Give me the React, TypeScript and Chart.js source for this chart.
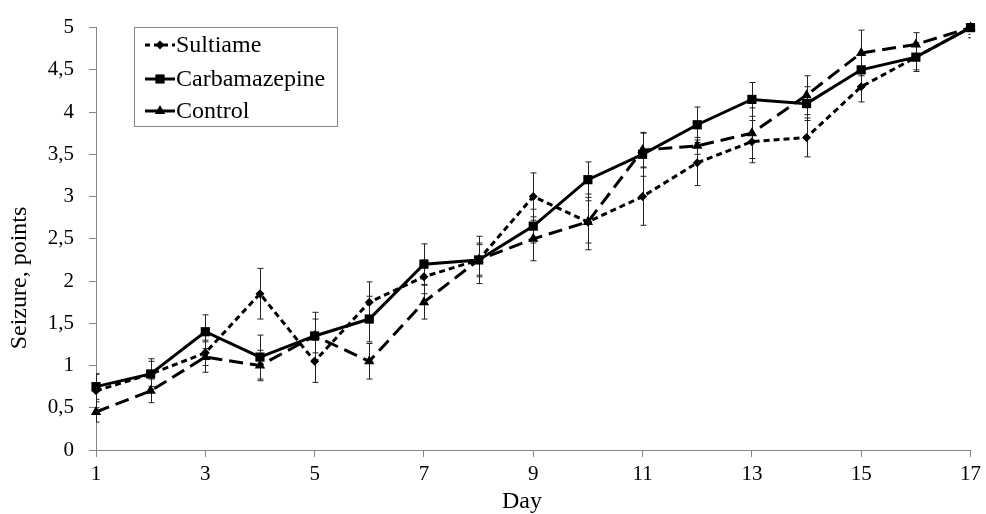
import React, { useEffect, useRef } from "react";
import { Chart, registerables } from "chart.js";

Chart.register(...registerables);

// ---- data ----
const days = [1, 2, 3, 4, 5, 6, 7, 8, 9, 10, 11, 12, 13, 14, 15, 16, 17];
const xTickValues = [1, 3, 5, 7, 9, 11, 13, 15, 17];
const yTickValues = [0, 0.5, 1, 1.5, 2, 2.5, 3, 3.5, 4, 4.5, 5];
const yTickLabels = ["0", "0,5", "1", "1,5", "2", "2,5", "3", "3,5", "4", "4,5", "5"];
const seriesNames = ["Sultiame", "Carbamazepine", "Control"];

const sultiame = [0.7, 0.9, 1.15, 1.85, 1.05, 1.75, 2.05, 2.25, 3.0, 2.7, 3.0, 3.4, 3.65, 3.7, 4.3, 4.65, 5.0];
const sultiameErr = [0.2, 0.15, 0.15, 0.3, 0.25, 0.24, 0.2, 0.28, 0.28, 0.25, 0.34, 0.27, 0.25, 0.23, 0.18, 0.15, 0.12];
const carbamazepine = [0.75, 0.9, 1.4, 1.1, 1.35, 1.55, 2.2, 2.25, 2.65, 3.2, 3.5, 3.85, 4.15, 4.1, 4.5, 4.65, 5.0];
const carbamazepineErr = [0.15, 0.18, 0.2, 0.26, 0.28, 0.27, 0.24, 0.2, 0.2, 0.21, 0.26, 0.21, 0.2, 0.2, 0.2, 0.17, 0.08];
const control = [0.45, 0.7, 1.1, 1.0, 1.35, 1.05, 1.75, 2.25, 2.5, 2.7, 3.55, 3.6, 3.75, 4.2, 4.7, 4.8, 5.0];
const controlErr = [0.12, 0.14, 0.18, 0.18, 0.2, 0.21, 0.2, 0.18, 0.26, 0.33, 0.2, 0.1, 0.3, 0.23, 0.27, 0.14, 0.12];

const xTitle = "Day";
const yTitle = "Seizure, points";

// ---- styling ----
const FONT = "'Liberation Serif', 'Times New Roman', serif";
const AXIS = "#868686";

function drawMarker(ctx: CanvasRenderingContext2D, style: string, x: number, y: number, r: number) {
  ctx.beginPath();
  if (style === "rect") {
    const s = r * Math.SQRT1_2;
    ctx.rect(x - s, y - s, 2 * s, 2 * s);
  } else if (style === "rectRot") {
    ctx.moveTo(x, y - r);
    ctx.lineTo(x + r, y);
    ctx.lineTo(x, y + r);
    ctx.lineTo(x - r, y);
    ctx.closePath();
  } else {
    for (let k = 0; k < 3; k++) {
      const a = -Math.PI / 2 + (k * 2 * Math.PI) / 3;
      const px = x + Math.cos(a) * r;
      const py = y + Math.sin(a) * r;
      if (k === 0) ctx.moveTo(px, py);
      else ctx.lineTo(px, py);
    }
    ctx.closePath();
  }
  ctx.fill();
}

const errorBarsPlugin = {
  id: "errorBars",
  beforeDatasetsDraw(chart: any) {
    const { ctx, chartArea: a } = chart;
    const ys = chart.scales.y;
    ctx.save();
    ctx.beginPath();
    ctx.rect(a.left, a.top, a.right - a.left, a.bottom - a.top);
    ctx.clip();
    ctx.strokeStyle = "#222";
    ctx.lineWidth = 1;
    chart.data.datasets.forEach((ds: any, i: number) => {
      const meta = chart.getDatasetMeta(i);
      ds.data.forEach((p: any, j: number) => {
        const x = Math.round(meta.data[j].x) + 0.5;
        const e = ds.errors[j];
        const yt = ys.getPixelForValue(p.y + e);
        const yb = ys.getPixelForValue(p.y - e);
        ctx.beginPath();
        ctx.moveTo(x, yt);
        ctx.lineTo(x, yb);
        ctx.moveTo(x - 3, yt);
        ctx.lineTo(x + 3, yt);
        ctx.moveTo(x - 3, yb);
        ctx.lineTo(x + 3, yb);
        ctx.stroke();
      });
    });
    ctx.restore();
  },
};

const decorPlugin = {
  id: "decor",
  afterDraw(chart: any) {
    const { ctx } = chart;
    ctx.save();
    // axis titles
    ctx.fillStyle = "#000";
    ctx.font = `24px ${FONT}`;
    ctx.textAlign = "center";
    ctx.textBaseline = "middle";
    ctx.fillText(xTitle, 522, 502);
    ctx.save();
    ctx.translate(20, 278);
    ctx.rotate(-Math.PI / 2);
    ctx.fillText(yTitle, 0, 0);
    ctx.restore();

    // legend
    const bx = 134.5, by = 27.5, bw = 203, bh = 99;
    ctx.fillStyle = "#fff";
    ctx.fillRect(bx, by, bw, bh);
    ctx.strokeStyle = AXIS;
    ctx.lineWidth = 1;
    ctx.strokeRect(bx, by, bw, bh);
    const rows = [45, 79, 111];
    chart.data.datasets.forEach((ds: any, i: number) => {
      const y = rows[i];
      ctx.save();
      ctx.strokeStyle = "#000";
      ctx.lineWidth = 3;
      ctx.setLineDash(i === 0 ? [5, 4] : []);
      ctx.beginPath();
      ctx.moveTo(145, y);
      ctx.lineTo(175, y);
      ctx.stroke();
      ctx.restore();
      ctx.fillStyle = "#000";
      drawMarker(ctx, ds.pointStyle, 160, y, ds.pointRadius);
      ctx.font = `24px ${FONT}`;
      ctx.textAlign = "left";
      ctx.textBaseline = "middle";
      ctx.fillText(ds.label, 176, y + 1);
    });
    ctx.restore();
  },
};

function toPoints(vals: number[]) {
  return vals.map((v, i) => ({ x: days[i], y: v }));
}

export default function App() {
  const ref = useRef<HTMLCanvasElement | null>(null);

  useEffect(() => {
    if (!ref.current) return;
    const common = {
      borderColor: "#000",
      backgroundColor: "#000",
      pointBackgroundColor: "#000",
      pointBorderColor: "#000",
      pointBorderWidth: 0,
      borderWidth: 3,
      fill: false,
      tension: 0,
      clip: false as any,
    };
    const chart = new Chart(ref.current, {
      type: "line",
      data: {
        datasets: [
          {
            ...common,
            label: seriesNames[0],
            data: toPoints(sultiame),
            errors: sultiameErr,
            borderDash: [6, 4],
            pointStyle: "rectRot",
            pointRadius: 4.5,
          } as any,
          {
            ...common,
            label: seriesNames[1],
            data: toPoints(carbamazepine),
            errors: carbamazepineErr,
            pointStyle: "rect",
            pointRadius: 6.5,
          } as any,
          {
            ...common,
            label: seriesNames[2],
            data: toPoints(control),
            errors: controlErr,
            borderDash: [14, 7],
            pointStyle: "triangle",
            pointRadius: 6,
          } as any,
        ],
      },
      options: {
        animation: false,
        responsive: true,
        maintainAspectRatio: false,
        layout: { padding: { left: 0, right: 15, top: 24, bottom: 0 } },
        plugins: { legend: { display: false }, tooltip: { enabled: false } },
        scales: {
          x: {
            type: "linear",
            min: 1,
            max: 17,
            afterBuildTicks: (s: any) => {
              s.ticks = xTickValues.map((v) => ({ value: v }));
            },
            afterFit: (s: any) => {
              s.height = 64;
            },
            grid: { drawOnChartArea: false, drawTicks: true, tickLength: 7, color: AXIS },
            border: { display: true, color: AXIS, width: 1 },
            ticks: {
              autoSkip: false,
              maxRotation: 0,
              padding: 5,
              color: "#000",
              font: { family: FONT, size: 21 },
            },
          },
          y: {
            type: "linear",
            min: 0,
            max: 5,
            afterBuildTicks: (s: any) => {
              s.ticks = yTickValues.map((v) => ({ value: v }));
            },
            afterFit: (s: any) => {
              s.width = 96;
            },
            grid: { drawOnChartArea: false, drawTicks: true, tickLength: 7, color: AXIS },
            border: { display: true, color: AXIS, width: 1 },
            ticks: {
              padding: 15,
              color: "#000",
              font: { family: FONT, size: 21 },
              callback: (_v: any, i: number) => yTickLabels[i],
            },
          },
        },
      } as any,
      plugins: [errorBarsPlugin, decorPlugin],
    });
    return () => chart.destroy();
  }, []);

  return (
    <div style={{ position: "absolute", left: 0, top: 0, width: 986, height: 514, background: "#fff" }}>
      <canvas ref={ref} />
    </div>
  );
}
